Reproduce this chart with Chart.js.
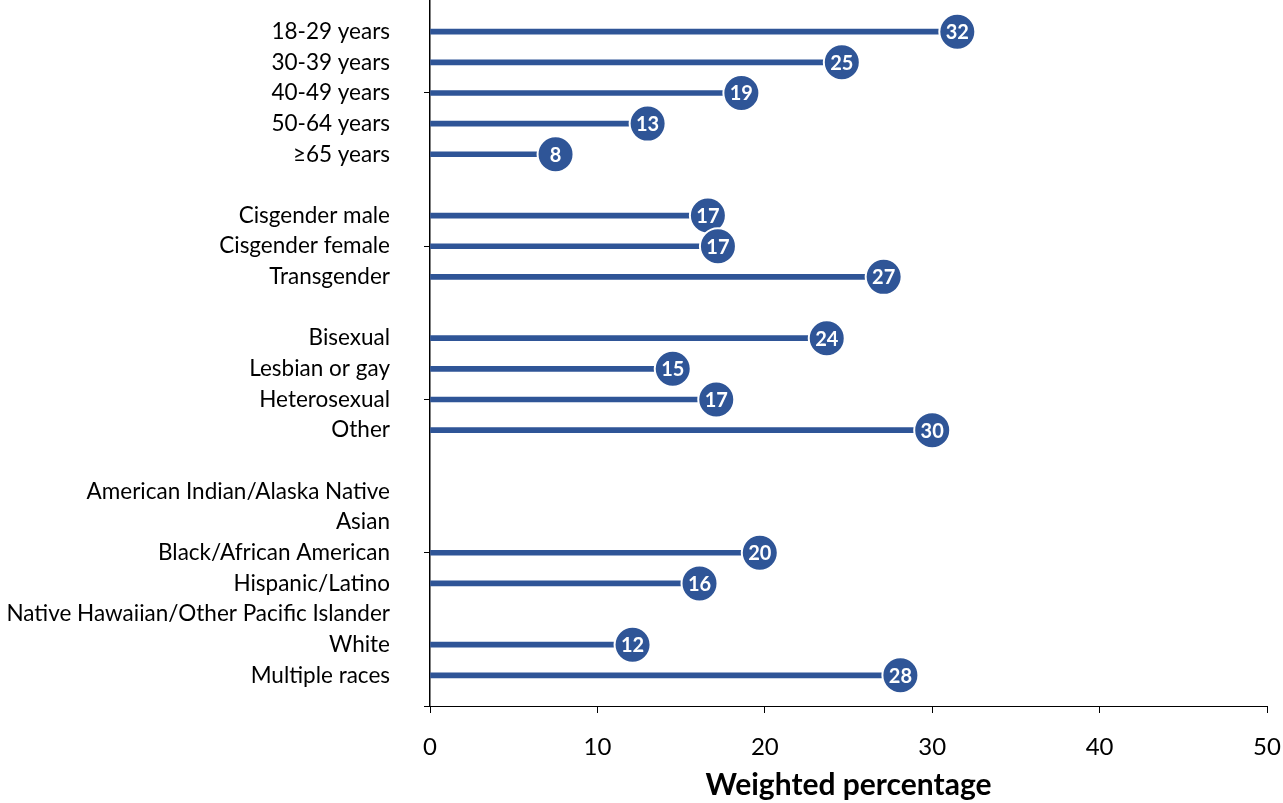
<!DOCTYPE html>
<html>
<head>
<meta charset="utf-8">
<script src="https://cdn.jsdelivr.net/npm/chart.js@4/dist/chart.umd.min.js"></script>
<style>
  html, body { margin: 0; padding: 0; background: #fff; }
  #wrap { width: 1283px; height: 803px; }
</style>
</head>
<body>
<div id="wrap"><canvas id="grafica"></canvas></div>
<script>
// Categorías (de arriba a abajo), '' = hueco entre grupos
const categorias = [
    '18-29 years', '30-39 years', '40-49 years', '50-64 years', '≥65 years', '',
    'Cisgender male', 'Cisgender female', 'Transgender', '',
    'Bisexual', 'Lesbian or gay', 'Heterosexual', 'Other', '',
    'American Indian/Alaska Native', 'Asian', 'Black/African American', 'Hispanic/Latino',
    'Native Hawaiian/Other Pacific Islander', 'White', 'Multiple races'
];
// Porcentaje ponderado (null = sin dato)
const valores = [
    31.5, 24.6, 18.6, 13.0, 7.5, null,
    16.6, 17.2, 27.1, null,
    23.7, 14.5, 17.1, 30.0, null,
    null, null, 19.7, 16.1, null, 12.1, 28.1
];
// Etiquetas mostradas en los círculos
const etiquetas = [
    32, 25, 19, 13, 8, null,
    17, 17, 27, null,
    24, 15, 17, 30, null,
    null, null, 20, 16, null, 12, 28
];
const ticksX = [0, 10, 20, 30, 40, 50];

const azul = '#2F5597';
const n = categorias.length;

// Posición vertical de cada fila (la primera arriba)
const puntos = [];
valores.forEach((v, i) => {
    if (v !== null) puntos.push({ x: v, y: n - i, etiqueta: etiquetas[i] });
});

const etiquetasCirculo = {
    id: 'etiquetasCirculo',
    afterDatasetsDraw(chart) {
        const meta = chart.getDatasetMeta(1);
        const c = chart.ctx;
        c.save();
        c.fillStyle = '#fff';
        c.font = 'bold 20px Lato';
        c.textAlign = 'center';
        c.textBaseline = 'middle';
        meta.data.forEach((el, i) => {
            c.fillText(String(puntos[i].etiqueta), el.x, el.y + 1);
        });
        c.restore();
    }
};

const ctx = document.getElementById('grafica').getContext('2d');
new Chart(ctx, {
    type: 'bar',
    data: {
        datasets: [{
            type: 'bar',
            indexAxis: 'y',
            data: puntos,
            backgroundColor: azul,
            barThickness: 5,
            order: 2
        }, {
            type: 'scatter',
            data: puntos,
            pointRadius: 18,
            pointHoverRadius: 18,
            pointBackgroundColor: azul,
            pointBorderColor: '#fff',
            pointBorderWidth: 2,
            clip: false,
            order: 1
        }]
    },
    options: {
        responsive: true,
        maintainAspectRatio: false,
        animation: false,
        layout: { autoPadding: false, padding: { top: 1, right: 16, left: 0, bottom: 0 } },
        plugins: { legend: { display: false }, tooltip: { enabled: false } },
        scales: {
            x: {
                type: 'linear',
                offset: false,
                min: 0,
                max: 50,
                afterBuildTicks: (s) => { s.ticks = ticksX.map(v => ({ value: v })); },
                afterFit: (s) => { s.height = 97; s.paddingLeft = 0; s.paddingRight = 0; },
                grid: { drawOnChartArea: false, offset: false, tickLength: 7, tickColor: '#000', tickWidth: 1 },
                border: { color: '#000', width: 1 },
                ticks: { color: '#000', font: { family: 'Lato', size: 24 }, padding: 20 },
                title: {
                    display: true,
                    text: 'Weighted percentage',
                    color: '#000',
                    font: { family: 'Lato', size: 30, weight: 'bold' },
                    padding: { top: 2, bottom: 0 }
                }
            },
            y: {
                type: 'linear',
                offset: false,
                min: 0,
                max: n + 1,
                afterBuildTicks: (s) => {
                    const t = [];
                    for (let v = 0; v <= n; v++) t.push({ value: v });
                    s.ticks = t;
                },
                afterFit: (s) => { s.width = 430; s.paddingTop = 0; s.paddingBottom = 0; },
                grid: {
                    drawOnChartArea: false,
                    offset: false,
                    tickLength: 6,
                    tickColor: (c) => (c.tick && c.tick.value % 5 === 0) ? '#000' : 'rgba(0,0,0,0)'
                },
                border: { color: '#000', width: 1.5 },
                ticks: {
                    autoSkip: false,
                    color: '#000',
                    padding: 34,
                    font: { family: 'Lato', size: 22.5 },
                    callback: (v) => (v >= 1 && v <= n) ? categorias[n - v] : ''
                }
            }
        }
    },
    plugins: [etiquetasCirculo]
});
</script>
</body>
</html>
